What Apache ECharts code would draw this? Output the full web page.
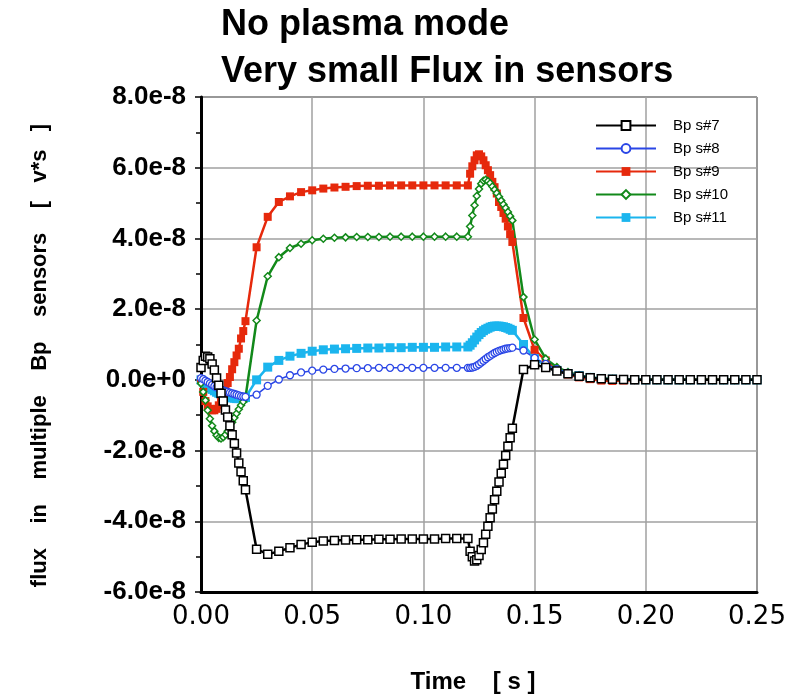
<!DOCTYPE html>
<html>
<head>
<meta charset="utf-8">
<script src="https://cdn.jsdelivr.net/npm/echarts@6/dist/echarts.min.js"></script>
<style>
  html, body { margin: 0; padding: 0; background: #fff; }
  #chart { width: 795px; height: 694px; }
</style>
</head>
<body>
<div id="chart"></div>
<script>
// Sample times [s]: fine steps around the switching edges, coarse elsewhere
const time = [
  0.000, 0.001, 0.002, 0.003, 0.004, 0.005, 0.006, 0.007, 0.008, 0.009, 0.010,
  0.011, 0.012, 0.013, 0.014, 0.015, 0.016, 0.017, 0.018, 0.019, 0.020,
  0.025, 0.030, 0.035, 0.040, 0.045, 0.050, 0.055, 0.060, 0.065, 0.070,
  0.075, 0.080, 0.085, 0.090, 0.095, 0.100, 0.105, 0.110, 0.115, 0.120,
  0.121, 0.122, 0.123, 0.124, 0.125, 0.126, 0.127, 0.128, 0.129, 0.130,
  0.131, 0.132, 0.133, 0.134, 0.135, 0.136, 0.137, 0.138, 0.139, 0.140,
  0.145, 0.150, 0.155, 0.160, 0.165, 0.170, 0.175, 0.180, 0.185, 0.190,
  0.195, 0.200, 0.205, 0.210, 0.215, 0.220, 0.225, 0.230, 0.235, 0.240,
  0.245, 0.250
];

// Sensor flux, in units of 1e-8 V*s
const UNIT = 1e-8;

const bp7 = [
  0.35, 0.55, 0.67, 0.65, 0.60, 0.45, 0.28, 0.05, -0.15, -0.38, -0.60,
  -0.85, -1.05, -1.30, -1.55, -1.80, -2.07, -2.35, -2.60, -2.85, -3.11,
  -4.79, -4.93, -4.85, -4.75, -4.66, -4.59, -4.56, -4.54, -4.53, -4.52,
  -4.52, -4.51, -4.51, -4.50, -4.50, -4.50, -4.50, -4.49, -4.49, -4.49,
  -4.85, -5.00, -5.12, -5.09, -4.97, -4.80, -4.61, -4.37, -4.14, -3.90,
  -3.65, -3.39, -3.15, -2.89, -2.64, -2.39, -2.14, -1.88, -1.64, -1.37,
  0.29, 0.43, 0.35, 0.25, 0.17, 0.10, 0.06, 0.03, 0.02, 0.01,
  0, 0, 0, 0, 0, 0, 0, 0, 0, 0,
  0, 0
];

const bp8 = [
  0.05, 0.02, -0.02, -0.06, -0.10, -0.14, -0.18, -0.21, -0.24, -0.27, -0.30,
  -0.32, -0.34, -0.36, -0.38, -0.40, -0.42, -0.44, -0.46, -0.47, -0.48,
  -0.42, -0.17, 0.01, 0.13, 0.21, 0.26, 0.29, 0.31, 0.32, 0.33,
  0.33, 0.34, 0.34, 0.34, 0.34, 0.34, 0.34, 0.34, 0.34, 0.34,
  0.34, 0.35, 0.37, 0.40, 0.44, 0.49, 0.54, 0.59, 0.64, 0.68,
  0.72, 0.76, 0.79, 0.82, 0.84, 0.86, 0.88, 0.89, 0.90, 0.91,
  0.83, 0.62, 0.45, 0.30, 0.20, 0.12, 0.07, 0.04, 0.02, 0.01,
  0, 0, 0, 0, 0, 0, 0, 0, 0, 0,
  0, 0
];

const bp9 = [
  0.00, -0.34, -0.60, -0.75, -0.82, -0.86, -0.86, -0.82, -0.72, -0.60, -0.45,
  -0.30, -0.09, 0.08, 0.30, 0.50, 0.69, 0.88, 1.17, 1.38, 1.66,
  3.75, 4.61, 5.03, 5.19, 5.31, 5.36, 5.41, 5.44, 5.46, 5.48,
  5.49, 5.49, 5.50, 5.50, 5.50, 5.50, 5.50, 5.50, 5.50, 5.50,
  5.83, 6.04, 6.21, 6.35, 6.38, 6.32, 6.21, 6.07, 5.93, 5.79,
  5.60, 5.45, 5.27, 5.03, 4.89, 4.72, 4.56, 4.34, 4.12, 3.90,
  1.75, 0.85, 0.55, 0.27, 0.15, 0.07, 0.02, -0.02, -0.03, -0.02,
  -0.01, 0, 0, 0, 0, 0, 0, 0, 0, 0,
  0, 0
];

const bp10 = [
  -0.10, -0.34, -0.58, -0.86, -1.10, -1.30, -1.45, -1.57, -1.64, -1.66, -1.62,
  -1.55, -1.45, -1.33, -1.20, -1.07, -0.95, -0.83, -0.72, -0.62, -0.50,
  1.68, 2.93, 3.47, 3.73, 3.85, 3.95, 3.99, 4.02, 4.03, 4.04,
  4.04, 4.04, 4.05, 4.05, 4.05, 4.05, 4.05, 4.05, 4.05, 4.05,
  4.34, 4.65, 4.94, 5.20, 5.40, 5.55, 5.63, 5.66, 5.62, 5.56,
  5.47, 5.38, 5.28, 5.18, 5.07, 4.96, 4.86, 4.75, 4.63, 4.51,
  2.34, 1.14, 0.60, 0.36, 0.22, 0.13, 0.07, 0.04, 0.02, 0.01,
  0, 0, 0, 0, 0, 0, 0, 0, 0, 0,
  0, 0
];

const bp11 = [
  0.00, -0.06, -0.12, -0.17, -0.22, -0.27, -0.31, -0.35, -0.38, -0.41, -0.44,
  -0.46, -0.48, -0.50, -0.51, -0.52, -0.53, -0.53, -0.53, -0.52, -0.50,
  0.00, 0.36, 0.55, 0.67, 0.75, 0.81, 0.85, 0.87, 0.88, 0.89,
  0.90, 0.90, 0.91, 0.91, 0.92, 0.92, 0.92, 0.93, 0.93, 0.93,
  0.98, 1.05, 1.13, 1.21, 1.28, 1.34, 1.39, 1.43, 1.46, 1.49,
  1.51, 1.52, 1.52, 1.52, 1.51, 1.50, 1.48, 1.46, 1.43, 1.40,
  1.00, 0.60, 0.41, 0.27, 0.18, 0.12, 0.07, 0.04, 0.02, 0.01,
  0, 0, 0, 0, 0, 0, 0, 0, 0, 0,
  0, 0
];

const seriesNames = ['Bp s#7', 'Bp s#8', 'Bp s#9', 'Bp s#10', 'Bp s#11'];
const xTicks = { min: 0, max: 0.25, step: 0.05 };
const yTicks = { min: -6e-8, max: 8e-8, step: 2e-8 };

function pairs(values) {
  return time.map((t, i) => [t, values[i] * UNIT]);
}

const FONT = '"Liberation Sans", Arial, Helvetica, sans-serif';
const WIDE_FONT = '"DejaVu Sans", "Liberation Sans", sans-serif';

// style of each trace: line, marker and an optional centre dot
const styles = {
  'Bp s#7':  { data: bp7,  line: '#000000', width: 2.5, symbol: 'rect',    size: 8, fill: '#ffffff', border: '#000000', bw: 1.5, dot: '#000000' },
  'Bp s#8':  { data: bp8,  line: '#2a46e6', width: 1.5, symbol: 'circle',  size: 7, fill: '#ffffff', border: '#2a46e6', bw: 1.3 },
  'Bp s#9':  { data: bp9,  line: '#e6290c', width: 2.5, symbol: 'rect',    size: 8, fill: '#e6290c', border: '#e6290c', bw: 0, dot: '#ffffff' },
  'Bp s#10': { data: bp10, line: '#12891a', width: 2.5, symbol: 'diamond', size: 7, fill: '#ffffff', border: '#12891a', bw: 1.5 },
  'Bp s#11': { data: bp11, line: '#1bb5ee', width: 2.5, symbol: 'rect',    size: 9, fill: '#1bb5ee', border: '#1bb5ee', bw: 0 }
};

// drawing order (later ones on top)
const drawOrder = ['Bp s#11', 'Bp s#9', 'Bp s#10', 'Bp s#8', 'Bp s#7'];

const series = [];
drawOrder.forEach(name => {
  const s = styles[name];
  series.push({
    name: name,
    type: 'line',
    data: pairs(s.data),
    symbol: s.symbol,
    symbolSize: s.size,
    showAllSymbol: true,
    lineStyle: { color: s.line, width: s.width },
    itemStyle: { color: s.fill, borderColor: s.border, borderWidth: s.bw },
    emphasis: { disabled: true },
    animation: false
  });
  if (s.dot) {
    series.push({
      name: name + ' centre',
      type: 'scatter',
      data: pairs(s.data),
      symbol: 'rect',
      symbolSize: 2,
      silent: true,
      itemStyle: { color: s.dot },
      animation: false
    });
  }
});

const chart = echarts.init(document.getElementById('chart'), null, { renderer: 'canvas' });
chart.setOption({
  backgroundColor: '#ffffff',
  animation: false,
  title: {
    text: 'No plasma mode\nVery small Flux in sensors',
    left: 216,
    top: -3,
    textStyle: { fontFamily: FONT, fontSize: 36, fontWeight: 'bold', color: '#000', lineHeight: 47 }
  },
  legend: {
    data: seriesNames,
    orient: 'vertical',
    left: 590,
    top: 113,
    itemWidth: 60,
    itemHeight: 11,
    itemGap: 8,
    textStyle: { fontFamily: FONT, fontSize: 15, color: '#000', padding: [0, 0, 0, 12] }
  },
  grid: {
    left: 201, right: 38, top: 97, bottom: 102,
    containLabel: false,
    outerBoundsMode: 'none',
    show: true, borderColor: '#000', borderWidth: 1
  },
  xAxis: {
    type: 'value',
    min: xTicks.min, max: xTicks.max, interval: xTicks.step,
    name: 'Time    [ s ]',
    nameLocation: 'middle',
    nameGap: 78,
    nameTextStyle: { fontFamily: FONT, fontSize: 24, fontWeight: 'bold', color: '#000', padding: [0, 12, 0, 0] },
    axisLine: { onZero: false, lineStyle: { color: '#000', width: 3 } },
    axisTick: { show: false },
    axisLabel: {
      fontFamily: WIDE_FONT, fontSize: 26, color: '#000', margin: 12,
      formatter: v => v.toFixed(2)
    },
    splitLine: { show: true, lineStyle: { color: '#a0a0a0', width: 1.5 } }
  },
  yAxis: {
    type: 'value',
    min: yTicks.min, max: yTicks.max, interval: yTicks.step,
    name: 'flux    in    multiple    Bp    sensors    [   v*s   ]',
    nameLocation: 'middle',
    nameGap: 150,
    nameTextStyle: { fontFamily: FONT, fontSize: 22, fontWeight: 'bold', color: '#000', padding: [0, 22, 0, 0] },
    axisLine: { onZero: false, lineStyle: { color: '#000', width: 3 } },
    axisTick: { show: true, inside: false, length: 6, lineStyle: { color: '#000', width: 1.5 } },
    minorTick: { show: true, splitNumber: 2, length: 5, lineStyle: { color: '#000', width: 1.5 } },
    axisLabel: {
      fontFamily: FONT, fontSize: 26, fontWeight: 'bold', color: '#000', margin: 15,
      formatter: v => v.toExponential(1)
    },
    splitLine: { show: true, lineStyle: { color: '#a0a0a0', width: 1.5 } }
  },
  series: series
});
</script>
</body>
</html>
